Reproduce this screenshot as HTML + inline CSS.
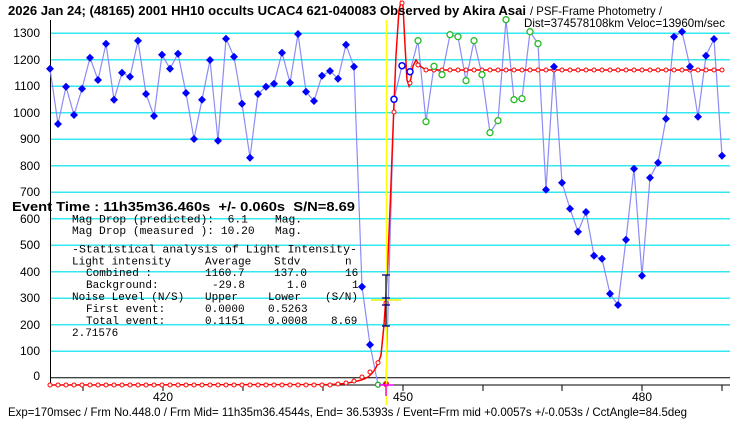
<!DOCTYPE html>
<html><head><meta charset="utf-8"><style>
html,body{margin:0;padding:0;background:#fff;width:740px;height:425px;overflow:hidden}
svg{display:block}
text{font-family:"Liberation Sans","Noto Sans CJK JP",sans-serif;fill:#000}
.m{font-family:"Liberation Mono","Noto Sans CJK JP",monospace;font-size:11px}
.yl{font-size:12px;text-anchor:end}
</style></head><body>
<svg id="s" width="740" height="425" viewBox="0 0 740 425" xmlns="http://www.w3.org/2000/svg">
<g stroke="#33e8f0" stroke-width="1.5">
<line x1="50" x2="730" y1="33.3" y2="33.3"/><line x1="50" x2="730" y1="59.8" y2="59.8"/>
<line x1="50" x2="730" y1="86.3" y2="86.3"/><line x1="50" x2="730" y1="112.8" y2="112.8"/>
<line x1="50" x2="730" y1="139.3" y2="139.3"/><line x1="50" x2="730" y1="165.8" y2="165.8"/>
<line x1="50" x2="730" y1="192.3" y2="192.3"/><line x1="50" x2="730" y1="218.8" y2="218.8"/>
<line x1="50" x2="730" y1="245.3" y2="245.3"/><line x1="50" x2="730" y1="271.7" y2="271.7"/>
<line x1="50" x2="730" y1="298.2" y2="298.2"/><line x1="50" x2="730" y1="324.7" y2="324.7"/>
<line x1="50" x2="730" y1="351.2" y2="351.2"/>
</g>
<line x1="50" x2="730" y1="377.7" y2="377.7" stroke="#000"/>
<line x1="323" x2="730" y1="385" y2="385" stroke="#000"/>
<line x1="50.5" x2="50.5" y1="20" y2="385" stroke="#000"/>
<g stroke="#000"><line x1="83" x2="83" y1="385" y2="391"/><line x1="163" x2="163" y1="385" y2="391"/><line x1="243" x2="243" y1="385" y2="391"/><line x1="323" x2="323" y1="385" y2="391"/><line x1="403" x2="403" y1="385" y2="391"/><line x1="483" x2="483" y1="385" y2="391"/><line x1="562" x2="562" y1="385" y2="391"/><line x1="642" x2="642" y1="385" y2="391"/><line x1="722" x2="722" y1="385" y2="391"/></g>
<g class="yl">
<text x="40" y="37" class="yl">1300</text><text x="40" y="64" class="yl">1200</text><text x="40" y="90" class="yl">1100</text><text x="40" y="117" class="yl">1000</text><text x="40" y="143" class="yl">900</text><text x="40" y="170" class="yl">800</text><text x="40" y="196" class="yl">700</text><text x="40" y="223" class="yl">600</text><text x="40" y="249" class="yl">500</text><text x="40" y="276" class="yl">400</text><text x="40" y="302" class="yl">300</text><text x="40" y="329" class="yl">200</text><text x="40" y="355" class="yl">100</text><text x="40" y="380" class="yl">0</text>
</g>
<text x="163" y="401" font-size="12" text-anchor="middle">420</text>
<text x="403" y="401" font-size="12" text-anchor="middle">450</text>
<text x="642" y="401" font-size="12" text-anchor="middle">480</text>
<polyline id="bl" fill="none" stroke="#8c8cf5" stroke-width="1.2"/>
<path d="M50,385 L330,384.5 C345,384 356,382 364,379 C372,376 377,368 381,355 L384,325 L387,280 L390,210 L393,130 L396,55 L399,10 L401,2 L403,6 L405,45 L407,80 L409,86 L411,78 L413,66 L416,60 L420,66 L426,70 L722,70" fill="none" stroke="#f00" stroke-width="1.5"/>
<g id="rc" fill="#fff" stroke="#f00" stroke-width="1"></g>
<g id="pts"></g>
<line x1="386.5" x2="386.5" y1="20" y2="405" stroke="#ff0" stroke-width="1.5"/>
<line x1="371" x2="401" y1="300" y2="300" stroke="#ee0" stroke-width="1.5"/>
<g stroke="#008" stroke-width="1.3"><line x1="386" x2="386" y1="275" y2="326"/><line x1="382" x2="390" y1="275" y2="275"/><line x1="382" x2="390" y1="326" y2="326"/><line x1="382" x2="390" y1="298" y2="298"/><line x1="382" x2="390" y1="305" y2="305"/></g>
<g stroke="#f0f" stroke-width="1.5"><line x1="379" x2="393" y1="385" y2="385"/><line x1="386" x2="386" y1="385" y2="396"/></g>
<text x="8" y="15" font-size="12.5" font-weight="bold" textLength="518" lengthAdjust="spacingAndGlyphs">2026 Jan 24; (48165) 2001 HH10 occults UCAC4 621-040083 Observed by Akira Asai</text>
<text x="530" y="15" font-size="12" textLength="132" lengthAdjust="spacingAndGlyphs">/ PSF-Frame Photometry /</text>
<text x="524" y="27" font-size="12" textLength="201" lengthAdjust="spacingAndGlyphs">Dist=374578108km Veloc=13960m/sec</text>
<text x="12" y="211" font-size="13" font-weight="bold" textLength="343" lengthAdjust="spacingAndGlyphs" xml:space="preserve">Event Time : 11h35m36.460s  +/- 0.060s  S/N=8.69</text>
<g class="m" xml:space="preserve">
<text class="m" x="72" y="222.5" textLength="230" lengthAdjust="spacingAndGlyphs" xml:space="preserve">Mag Drop (predicted):  6.1    Mag.</text>
<text class="m" x="72" y="234" textLength="230" lengthAdjust="spacingAndGlyphs" xml:space="preserve">Mag Drop (measured ): 10.20   Mag.</text>
<text class="m" x="72" y="252.5" textLength="285" lengthAdjust="spacingAndGlyphs" xml:space="preserve">-Statistical analysis of Light Intensity-</text>
<text class="m" x="72" y="264.5" xml:space="preserve">Light intensity</text><text class="m" x="205" y="264.5">Average</text><text class="m" x="274" y="264.5">Stdv</text><text class="m" x="345" y="264.5">n</text>
<text class="m" x="86" y="276">Combined  :</text><text class="m" x="205" y="276">1160.7</text><text class="m" x="274" y="276">137.0</text><text class="m" x="345" y="276">16</text>
<text class="m" x="86" y="288">Background:</text><text class="m" x="212" y="288">-29.8</text><text class="m" x="287" y="288">1.0</text><text class="m" x="352" y="288">1</text>
<text class="m" x="72" y="300" xml:space="preserve">Noise Level (N/S)</text><text class="m" x="205" y="300">Upper</text><text class="m" x="268" y="300">Lower</text><text class="m" x="325" y="300">(S/N)</text>
<text class="m" x="86" y="312">First event:</text><text class="m" x="205" y="312">0.0000</text><text class="m" x="268" y="312">0.5263</text>
<text class="m" x="86" y="324">Total event:</text><text class="m" x="205" y="324">0.1151</text><text class="m" x="268" y="324">0.0008</text><text class="m" x="331" y="324">8.69</text>
<text class="m" x="72" y="336">2.71576</text>
</g>
<text x="8" y="416" font-size="12" textLength="679" lengthAdjust="spacingAndGlyphs">Exp=170msec / Frm No.448.0 / Frm Mid= 11h35m36.4544s,  End= 36.5393s / Event=Frm mid +0.0057s +/-0.053s / CctAngle=84.5deg</text>
</svg>
<script>
var Y=[68.7,124,86.7,115,88.7,57.7,80,43.7,99.7,72.7,76.7,40.7,94,116,54.7,68.7,53.7,93,139,99.7,60,140.7,38.7,56.7,103.7,157.7,94,86.7,83.7,52.7,82.7,34,91.7,101,75.7,71,78.7,44.7,66.7,286.7,344.7,384.7,384,99.3,65.7,71.7,40.7,121.7,66.3,74.7,34.7,36.7,80.7,40.7,74.7,132.7,120.7,19.7,99.7,98.7,31.7,43.7,189.7,66.7,182.7,208.7,231.7,212,255.7,258.7,293.7,305,239.7,168.7,275.7,177.7,162.7,118.7,36.7,31.7,66.7,116.7,55.7,39,155.7];
var ns="http://www.w3.org/2000/svg",pts="",g=document.getElementById('pts'),rc=document.getElementById('rc');
function el(t,a,p){var e=document.createElementNS(ns,t);for(var k in a)e.setAttribute(k,a[k]);p.appendChild(e);}
for(var i=0;i<Y.length;i++){var x=50+8*i,y=Y[i];pts+=x+","+y+" ";
 if(i==41){el('circle',{cx:x,cy:y,r:2.5,fill:'#fff',stroke:'#2a2',"stroke-width":1.3},g);}
 else if(i==42){el('circle',{cx:x,cy:y,r:3,fill:'#e00'},g);}
 else if(i>=43&&i<=45){el('circle',{cx:x,cy:y,r:3,fill:'#fff',stroke:'#00f',"stroke-width":1.5},g);}
 else if(i>=46&&i<=61){el('circle',{cx:x,cy:y,r:3,fill:'#fff',stroke:'#2b2',"stroke-width":1.3},g);}
 else{el('path',{d:"M"+x+","+(y-4)+" L"+(x+4)+","+y+" L"+x+","+(y+4)+" L"+(x-4)+","+y+"Z",fill:'#00f'},g);}
}
document.getElementById('bl').setAttribute('points',pts);
var R={36:384,37:383,38:381,39:377,40:372,41:362.7,42:303,43:112,44:3,45:83,46:65};
for(var i=0;i<=84;i++){var x=50+8*i,y=R[i]!==undefined?R[i]:(i<36?385:70);el('circle',{cx:x,cy:y,r:2},rc);}
</script>
</body></html>
